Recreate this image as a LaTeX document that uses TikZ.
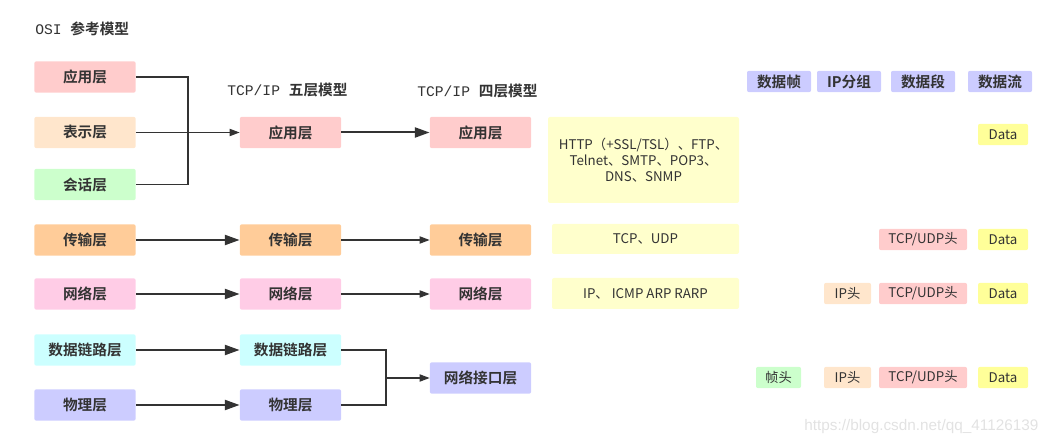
\documentclass[tikz,border=0pt]{standalone}
\usepackage{fontspec}
\usetikzlibrary{arrows.meta}
\newfontfamily\cjk{Noto Sans CJK SC}[BoldFont={Noto Sans CJK SC Bold}]
\newfontfamily\monof{Liberation Mono}
\newfontfamily\wmfont{Liberation Sans}
\definecolor{txt}{HTML}{333333}
\definecolor{cApp}{HTML}{FFCCCC}
\definecolor{cPre}{HTML}{FFE6CC}
\definecolor{cSes}{HTML}{CCFFCC}
\definecolor{cTra}{HTML}{FFCC99}
\definecolor{cNet}{HTML}{FFCCE6}
\definecolor{cLnk}{HTML}{CCFFFF}
\definecolor{cPhy}{HTML}{CCCCFF}
\definecolor{cYel}{HTML}{FFFFCC}
\definecolor{cData}{HTML}{FFFF99}
\definecolor{wm}{HTML}{E2E2E2}
\tikzset{
  layer/.style={rounded corners=1.5pt, minimum width=76pt, minimum height=23.5pt, inner sep=0pt, text=txt, font=\cjk\bfseries\fontsize{11}{13}\selectfont},
  hdr/.style={rounded corners=1.5pt, fill=cPhy, minimum width=48pt, minimum height=16pt, inner sep=0pt, text=txt, font=\cjk\bfseries\fontsize{11}{13}\selectfont},
  chip/.style={rounded corners=1.5pt, minimum height=16pt, inner sep=0pt, text=txt, font=\cjk\fontsize{10}{12}\selectfont},
  proto/.style={rounded corners=1.5pt, fill=cYel, inner sep=0pt, text=txt, align=center, font=\cjk\fontsize{10}{12}\selectfont},
  title/.style={anchor=west, inner sep=0pt, text=txt, font=\fontsize{11}{13}\selectfont},
  thick arrow/.style={draw=txt, line width=1.5pt, -{Triangle[length=11pt,width=7.5pt]}},
  thin arrow/.style={draw=txt, line width=0.8pt, -{Triangle[length=7.5pt,width=5.5pt]}},
  thin line/.style={draw=txt, line width=0.8pt},
}
\begin{document}
\begin{tikzpicture}[x=0.75pt,y=-0.75pt]
\useasboundingbox (0,0) rectangle (1057,445);
% titles
\node[title] (t1) at (35,29) {\monof OSI \cjk\bfseries 参考模型};
\node[title] (t2) at (227,90) {\monof TCP/IP \cjk\bfseries 五层模型};
\node[title] (t3) at (417,91) {\monof TCP/IP \cjk\bfseries 四层模型};
% OSI column
\node[layer, fill=cApp] (o1) at (85,77) {应用层};
\node[layer, fill=cPre] (o2) at (85,132.5) {表示层};
\node[layer, fill=cSes] (o3) at (85,184.5) {会话层};
\node[layer, fill=cTra] (o4) at (85,240) {传输层};
\node[layer, fill=cNet] (o5) at (85,294) {网络层};
\node[layer, fill=cLnk] (o6) at (85,350) {数据链路层};
\node[layer, fill=cPhy] (o7) at (85,405) {物理层};
% five layer
\node[layer, fill=cApp] (f1) at (290.5,132.5) {应用层};
\node[layer, fill=cTra] (f2) at (290.5,240) {传输层};
\node[layer, fill=cNet] (f3) at (290.5,294) {网络层};
\node[layer, fill=cLnk] (f4) at (290.5,350) {数据链路层};
\node[layer, fill=cPhy] (f5) at (290.5,405) {物理层};
% four layer
\node[layer, fill=cApp] (g1) at (480.5,132.5) {应用层};
\node[layer, fill=cTra] (g2) at (480.5,240) {传输层};
\node[layer, fill=cNet] (g3) at (480.5,294) {网络层};
\node[layer, fill=cPhy] (g4) at (480.5,378) {网络接口层};
% protocols
\node[proto, minimum width=143.25pt, minimum height=64.5pt] (p1) at (643.5,160) {HTTP（+SSL/TSL）、FTP、\\Telnet、SMTP、POP3、\\DNS、SNMP};
\node[proto, minimum width=140.25pt, minimum height=22.5pt] (p2) at (645.5,239) {TCP、UDP};
\node[proto, minimum width=140.25pt, minimum height=23.25pt] (p3) at (645.5,293.5) {IP、 ICMP ARP RARP};
% headers
\node[hdr] (h1) at (779,81.5) {数据帧};
\node[hdr] (h2) at (849,81.5) {IP分组};
\node[hdr] (h3) at (923,81.5) {数据段};
\node[hdr] (h4) at (1000,81.5) {数据流};
% chips
\node[chip, fill=cData, minimum width=37.5pt] (d1) at (1003,134.5) {Data};
\node[chip, fill=cApp, minimum width=66pt] (u2) at (923,239.5) {TCP/UDP头};
\node[chip, fill=cData, minimum width=37.5pt] (d2) at (1003,239.5) {Data};
\node[chip, fill=cPre, minimum width=35.25pt] (i3) at (847.5,293.5) {IP头};
\node[chip, fill=cApp, minimum width=66pt] (u3) at (923,293.5) {TCP/UDP头};
\node[chip, fill=cData, minimum width=37.5pt] (d3) at (1003,293.5) {Data};
\node[chip, fill=cSes, minimum width=33.75pt] (e4) at (778.5,377.5) {帧头};
\node[chip, fill=cPre, minimum width=35.25pt] (i4) at (847.5,377.5) {IP头};
\node[chip, fill=cApp, minimum width=66pt] (u4) at (923,377.5) {TCP/UDP头};
\node[chip, fill=cData, minimum width=37.5pt] (d4) at (1003,377.5) {Data};
% watermark
\node[anchor=west, inner sep=0pt, text=wm, font=\wmfont\fontsize{11.5}{13}\selectfont] (wmk) at (804,427) {https://blog.csdn.net/qq\_41126139};
% connectors upper bracket
\coordinate (b1) at (188,77);
\coordinate (b3) at (188,184.5);
\draw[thin line] (o1.east) -- (b1) -- (b3) -- (o3.east);
\draw[thin arrow] (o2.east) -- (f1.west);
\draw[thick arrow] (f1.east) -- (g1.west);
% straight arrows
\draw[thick arrow] (o4.east) -- (f2.west);
\draw[thick arrow] (o5.east) -- (f3.west);
\draw[thick arrow] (o6.east) -- (f4.west);
\draw[thick arrow] (o7.east) -- (f5.west);
\draw[thin arrow] (f2.east) -- (g2.west);
\draw[thin arrow] (f3.east) -- (g3.west);
% lower bracket
\coordinate (c1) at (386,350);
\coordinate (c2) at (386,405);
\coordinate (c3) at (386,378);
\draw[thin line] (f4.east) -- (c1) -- (c2) -- (f5.east);
\draw[thin arrow] (c3) -- (g4.west);
\end{tikzpicture}
\end{document}
